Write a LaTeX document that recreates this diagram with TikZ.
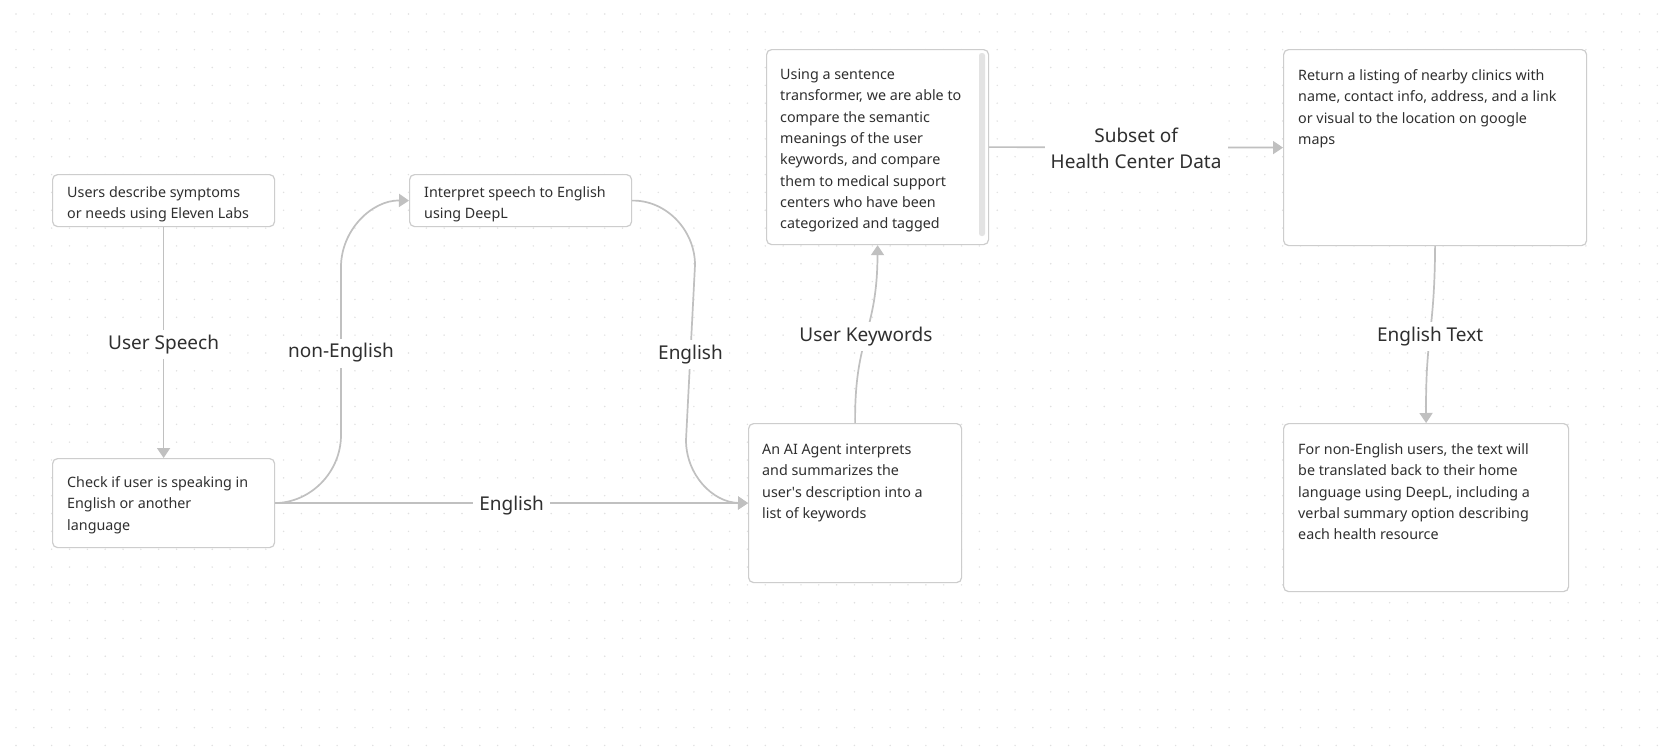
\documentclass[tikz,border=0pt]{standalone}
\usepackage{fontspec}
\setmainfont{Noto Sans}
\usetikzlibrary{arrows.meta}
\definecolor{boxline}{HTML}{CDCDCD}
\definecolor{edgecol}{HTML}{C0C0C0}
\definecolor{txtcol}{HTML}{2F2F2F}
\definecolor{dotcol}{HTML}{E0E0E0}
\definecolor{scrollcol}{HTML}{E3E3E3}
\newcommand{\boxlines}[1]{\begin{tabular}[t]{@{}l@{}}#1\end{tabular}}
\newcommand{\lbllines}[1]{\begin{tabular}{@{}c@{}}#1\end{tabular}}
\begin{document}
\begin{tikzpicture}[x=1pt,y=-1pt,
  box/.style={draw=boxline, line width=1.2pt, rounded corners=5pt, fill=white, anchor=north west, inner sep=0pt},
  btxt/.style={anchor=base west, inner sep=0pt, text=txtcol, font=\fontsize{14.3}{21.3}\selectfont},
  edge/.style={draw=edgecol, line width=1.7pt, -{Triangle[length=10pt,width=13pt]}},
  lbl/.style={fill=white, text=txtcol, font=\fontsize{19}{25.5}\selectfont, inner xsep=6pt, inner ysep=5pt, yshift=-2pt},
]
\useasboundingbox (0,0) rectangle (1665,755);
\fill[white] (0,0) rectangle (1665,755);
% dot grid
\foreach \y in {14,31.84,...,754} {
  \fill[dotcol] \foreach \x in {16,33.84,...,1664} {(\x,\y) circle[radius=0.8pt]};
}

% boxes
\node[box, minimum width=222pt, minimum height=52pt] (b1) at (52,174) {};
\node[box, minimum width=222pt, minimum height=89pt] (b2) at (52,458) {};
\node[box, minimum width=222pt, minimum height=52pt] (b3) at (409,174) {};
\node[box, minimum width=222pt, minimum height=195pt] (b4) at (766,49) {};
\node[box, minimum width=213pt, minimum height=159pt] (b5) at (748,423) {};
\node[box, minimum width=303pt, minimum height=196pt] (b6) at (1283,49) {};
\node[box, minimum width=285pt, minimum height=168pt] (b7) at (1283,423) {};
\fill[scrollcol, rounded corners=2.5pt] (979,53) rectangle (985,236);

% coordinates for routed edges
\coordinate (c1) at (341,435);
\coordinate (c2) at (341,267);
\coordinate (c3) at (695,265);
\coordinate (c4) at (686,440);

% edges
\draw[edge] (b1.south) -- node[lbl] (l1) {User Speech} (b2.north);
\draw[edge] (b2.east) .. controls (311,502.5) and (341,472) .. (c1)
  -- node[lbl] (l2) {non-English} (c2)
  .. controls (341,230) and (372,200) .. (b3.west);
\draw[edge] (b2.east) -- node[lbl] (l3) {English} (b5.west);
\draw[edge] (b3.east) .. controls (666,200) and (695,230) .. (c3)
  -- node[lbl] (l4) {English} (c4)
  .. controls (686,475) and (713,502.5) .. (b5.west);
\draw[edge] (b5.north) .. controls (854.5,335) and (877,335) .. (b4.south)
  node[lbl, pos=0.5] (l5) {User Keywords};
\draw[edge] (b4.east) -- node[lbl, yshift=-1pt] (l6) {\lbllines{Subset of\\Health Center Data}} (b6.west);
\draw[edge] (b6.south) .. controls (1434.5,334) and (1425.5,334) .. (b7.north)
  node[lbl, pos=0.5] (l7) {English Text};

% texts
\node[btxt] (t1) at (67,197) {\boxlines{Users describe symptoms\\or needs using Eleven Labs}};
\node[btxt] (t2) at (67,487.5) {\boxlines{Check if user is speaking in\\English or another\\language}};
\node[btxt] (t3) at (424,197) {\boxlines{Interpret speech to English\\using DeepL}};
\node[btxt] (t4) at (780,79.5) {\boxlines{Using a sentence\\transformer, we are able to\\compare the semantic\\meanings of the user\\keywords, and compare\\them to medical support\\centers who have been\\categorized and tagged}};
\node[btxt] (t5) at (762,454.5) {\boxlines{An AI Agent interprets\\and summarizes the\\user\textquotesingle s description into a\\list of keywords}};
\node[btxt] (t6) at (1298,80.5) {\boxlines{Return a listing of nearby clinics with\\name, contact info, address, and a link\\or visual to the location on google\\maps}};
\node[btxt] (t7) at (1298,454.5) {\boxlines{For non-English users, the text will\\be translated back to their home\\language using DeepL, including a\\verbal summary option describing\\each health resource}};
\end{tikzpicture}
\end{document}
